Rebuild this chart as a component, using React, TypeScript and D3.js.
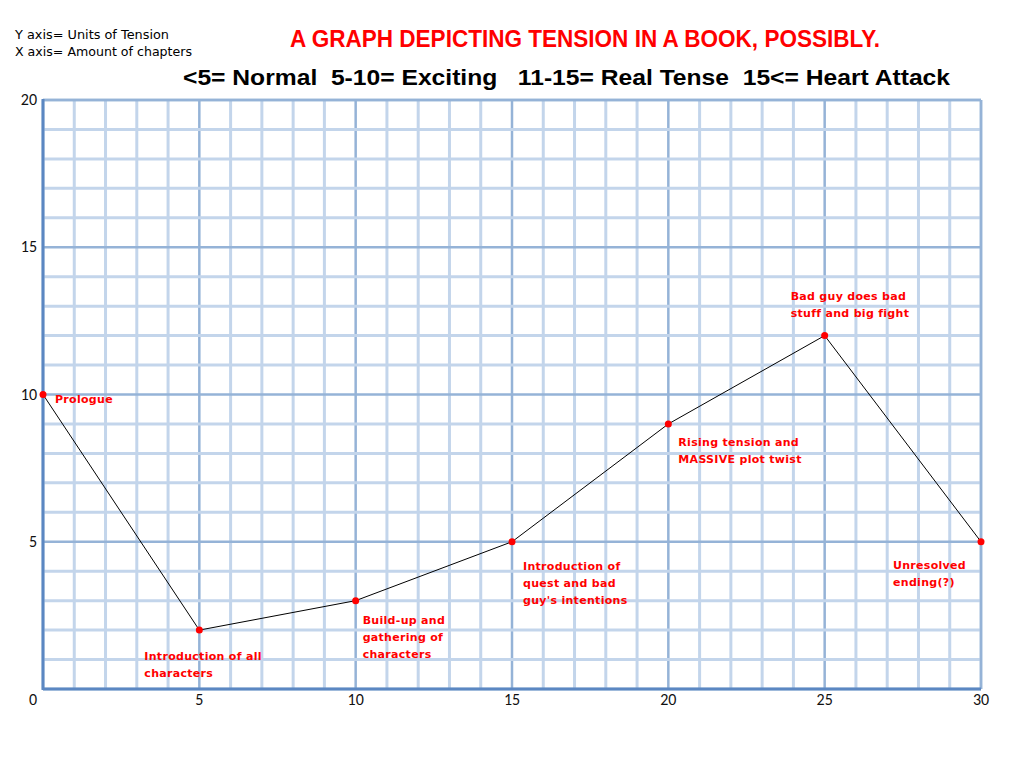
import React from "react";
import * as d3 from "d3";

const chapters = [0, 5, 10, 15, 20, 25, 30];
const tension = [10, 2, 3, 5, 9, 12, 5];
const notes: string[][] = [
  ["Prologue"],
  ["Introduction of all", "characters"],
  ["Build-up and", "gathering of", "characters"],
  ["Introduction of", "quest and bad", "guy's intentions"],
  ["Rising tension and", "MASSIVE plot twist"],
  ["Bad guy does bad", "stuff and big fight"],
  ["Unresolved", "ending(?)"],
];
// label offsets relative to the point (dx, dy of first line baseline)
const noteOffsets: [number, number][] = [
  [12, 8],
  [-55, 30],
  [7, 23],
  [11, 28],
  [10, 22],
  [-34, -36],
  [-88, 27],
];
const xTicks = [0, 5, 10, 15, 20, 25, 30];
const yTicks = [0, 5, 10, 15, 20];

export default function App() {
  const W = 1024, H = 768;
  const x = d3.scaleLinear().domain([0, 30]).range([43, 981]);
  const y = d3.scaleLinear().domain([0, 20]).range([689, 100]);
  const line = d3.line<number>().x((_, i) => x(chapters[i])).y((d) => y(d));
  const minorX = d3.range(0, 31);
  const minorY = d3.range(0, 21);
  const noteFont = "'DejaVu Sans', Verdana, sans-serif";
  const tickFont = "Carlito, 'Open Sans', 'Liberation Sans', sans-serif";
  return (
    <svg width={W} height={H} style={{ position: "absolute", left: 0, top: 0, background: "#fff" }}>
      <rect width={W} height={H} fill="#fff" />
      <text x={15} y={39} fontFamily="'DejaVu Sans', Verdana, sans-serif" fontSize={12} fill="#000" textLength={154} lengthAdjust="spacingAndGlyphs">Y axis= Units of Tension</text>
      <text x={15} y={56} fontFamily="'DejaVu Sans', Verdana, sans-serif" fontSize={12} fill="#000" textLength={177} lengthAdjust="spacingAndGlyphs">X axis= Amount of chapters</text>
      <text x={290} y={47} fontFamily="'Liberation Sans Narrow', 'Liberation Sans', Arial, sans-serif" fontWeight="bold" fontSize={24} fill="#ff0000" textLength={590} lengthAdjust="spacingAndGlyphs">A GRAPH DEPICTING TENSION IN A BOOK, POSSIBLY.</text>
      <text x={183} y={85} fontFamily="'Liberation Sans', Arial, sans-serif" fontWeight="bold" fontSize={22} fill="#000" textLength={767} lengthAdjust="spacingAndGlyphs" style={{ whiteSpace: "pre" }}>{"<5= Normal  5-10= Exciting   11-15= Real Tense  15<= Heart Attack"}</text>
      {minorX.map((v) => (
        <line key={"vx" + v} x1={x(v)} x2={x(v)} y1={y(20)} y2={y(0)} stroke={v % 5 === 0 ? "#95b3d7" : "#c3d5eb"} strokeWidth={v % 5 === 0 ? 2.5 : 3} />
      ))}
      {minorY.map((v) => (
        <line key={"hy" + v} x1={x(0)} x2={x(30)} y1={y(v)} y2={y(v)} stroke={v % 5 === 0 ? "#95b3d7" : "#c3d5eb"} strokeWidth={v % 5 === 0 ? 2.5 : 3} />
      ))}
      <line x1={x(30)} x2={x(30)} y1={y(20)} y2={y(0)} stroke="#95b3d7" strokeWidth={2.5} />
      <line x1={x(0)} x2={x(30)} y1={y(20)} y2={y(20)} stroke="#95b3d7" strokeWidth={2.5} />
      <line x1={x(0)} x2={x(0)} y1={y(20) - 1} y2={y(0) + 1} stroke="#5b87c2" strokeWidth={3} />
      <line x1={x(0)} x2={x(30)} y1={y(0)} y2={y(0)} stroke="#5b87c2" strokeWidth={3} />
      {yTicks.filter((v) => v > 0).map((v) => (
        <text key={"yt" + v} x={37} y={y(v) + 5} textAnchor="end" fontFamily={tickFont} fontSize={16} fill="#111">{v}</text>
      ))}
      {xTicks.map((v) => (
        <text key={"xt" + v} x={v === 0 ? 33 : x(v)} y={705} textAnchor="middle" fontFamily={tickFont} fontSize={16} fill="#111">{v}</text>
      ))}
      <path d={line(tension) || ""} fill="none" stroke="#000" strokeWidth={1} />
      {tension.map((v, i) => (
        <circle key={"p" + i} cx={x(chapters[i])} cy={y(v)} r={3.5} fill="#ff0000" />
      ))}
      {notes.map((lines, i) => (
        <text key={"n" + i} fontFamily={noteFont} fontWeight="bold" fontSize={11} fill="#ff0000" letterSpacing={0.3}>
          {lines.map((l, j) => (
            <tspan key={j} x={x(chapters[i]) + noteOffsets[i][0]} y={y(tension[i]) + noteOffsets[i][1] + j * 17}>{l}</tspan>
          ))}
        </text>
      ))}
    </svg>
  );
}
